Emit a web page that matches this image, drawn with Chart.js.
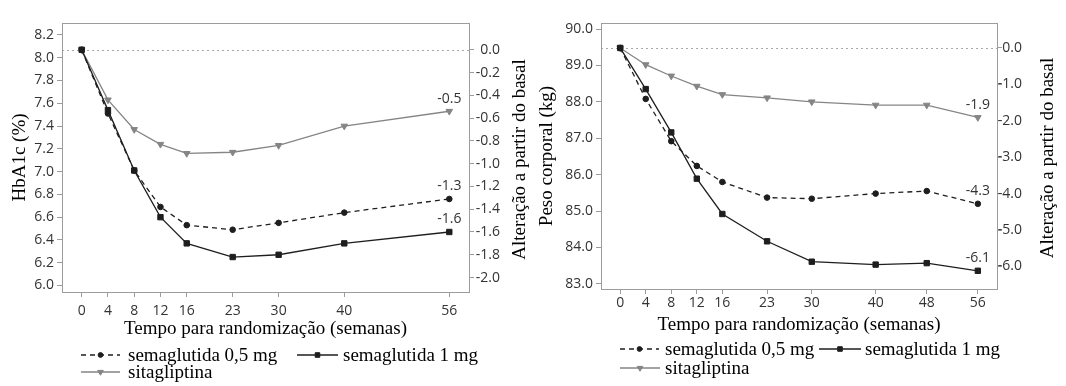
<!DOCTYPE html>
<html>
<head>
<meta charset="utf-8">
<script src="https://cdn.jsdelivr.net/npm/chart.js@4.4.1/dist/chart.umd.min.js"></script>
<style>
  html, body { margin: 0; padding: 0; background: #fff; }
  #wrap { position: relative; width: 1066px; height: 386px; overflow: hidden; }
  #hb { position: absolute; left: 0; top: 0; }
  #wt { position: absolute; left: 530px; top: 0; }
</style>
</head>
<body>
<div id="wrap">
  <canvas id="hb" width="530" height="386"></canvas>
  <canvas id="wt" width="536" height="386"></canvas>
</div>
<script>
// séries (mesma ordem nos dois painéis)
const seriesNames = ["semaglutida 0,5 mg", "semaglutida 1 mg", "sitagliptina"];

// painel esquerdo: HbA1c (%)
const hbWeeks = [0, 4, 8, 12, 16, 23, 30, 40, 56];
const hbSema05 = [8.07, 7.51, 7.01, 6.69, 6.53, 6.49, 6.55, 6.64, 6.76];
const hbSema1 = [8.07, 7.54, 7.01, 6.60, 6.37, 6.25, 6.27, 6.37, 6.47];
const hbSita = [8.07, 7.63, 7.37, 7.24, 7.16, 7.17, 7.23, 7.40, 7.53];
const hbTicks = [6.0, 6.2, 6.4, 6.6, 6.8, 7.0, 7.2, 7.4, 7.6, 7.8, 8.0, 8.2];
const hbChangeTicks = [0, -0.2, -0.4, -0.6, -0.8, -1.0, -1.2, -1.4, -1.6, -1.8, -2.0];
const hbEndLabels = ["-1.3", "-1.6", "-0.5"];

// painel direito: peso corporal (kg)
const wtWeeks = [0, 4, 8, 12, 16, 23, 30, 40, 48, 56];
const wtSema05 = [89.48, 88.08, 86.92, 86.24, 85.80, 85.37, 85.34, 85.48, 85.55, 85.20];
const wtSema1 = [89.48, 88.35, 87.16, 85.89, 84.92, 84.17, 83.61, 83.53, 83.57, 83.36];
const wtSita = [89.48, 89.02, 88.71, 88.43, 88.20, 88.11, 88.00, 87.91, 87.91, 87.57];
const wtTicks = [83, 84, 85, 86, 87, 88, 89, 90];
const wtChangeTicks = [0, -1, -2, -3, -4, -5, -6];
const wtEndLabels = ["-4.3", "-6.1", "-1.9"];

const xTitle = "Tempo para randomização (semanas)";
const changeTitle = "Alteração a partir do basal";

const SERIF = "'Liberation Serif', 'Times New Roman', serif";
const SANS = "'Open Sans', sans-serif";
const DARK = "#1e1e1e";
const GREY = "#858585";
const FRAME = "#9c9c9c";

Chart.defaults.font.family = SANS;
Chart.defaults.color = "#333";

// moldura, linha basal pontilhada, rótulos finais, título direito e legenda
const extras = {
  id: "extras",
  beforeDatasetsDraw(chart) {
    const { ctx, chartArea: a } = chart;
    const y0 = Math.round(chart.scales.y2.getPixelForValue(0)) + 0.5;
    ctx.save();
    ctx.lineWidth = 1;
    ctx.strokeStyle = "#a8a8a8";
    ctx.setLineDash([2, 3]);
    ctx.beginPath();
    ctx.moveTo(a.left, y0);
    ctx.lineTo(a.right, y0);
    ctx.stroke();
    ctx.setLineDash([]);
    ctx.strokeStyle = FRAME;
    ctx.strokeRect(Math.round(a.left) + 0.5, Math.round(a.top) + 0.5,
      Math.round(a.right - a.left), Math.round(a.bottom - a.top));
    ctx.restore();
  },
  afterDatasetsDraw(chart, args, opts) {
    const { ctx } = chart;
    ctx.save();
    ctx.font = "14px " + SANS;
    ctx.fillStyle = "#333";
    ctx.textAlign = "center";
    ctx.textBaseline = "middle";
    opts.endLabels.forEach((txt, i) => {
      const pts = chart.getDatasetMeta(i).data;
      const p = pts[pts.length - 1];
      ctx.fillText(txt, p.x, p.y - 12.5);
    });
    ctx.restore();
  },
  afterDraw(chart, args, opts) {
    const { ctx, chartArea: a } = chart;
    ctx.save();
    // título do eixo direito, lido de baixo para cima
    ctx.font = "19px " + SERIF;
    ctx.fillStyle = "#000";
    ctx.textAlign = "center";
    ctx.textBaseline = "middle";
    ctx.translate(opts.rightTitleX, (a.top + a.bottom) / 2 + 2);
    ctx.rotate(-Math.PI / 2);
    ctx.fillText(changeTitle, 0, 0);
    ctx.restore();

    // legenda
    ctx.save();
    opts.legend.forEach((it) => {
      const ds = chart.data.datasets[it.ds];
      ctx.strokeStyle = ds.borderColor;
      ctx.fillStyle = ds.borderColor;
      ctx.lineWidth = 1.3;
      ctx.setLineDash(ds.borderDash || []);
      ctx.beginPath();
      ctx.moveTo(it.x0, it.y);
      ctx.lineTo(it.x1, it.y);
      ctx.stroke();
      ctx.setLineDash([]);
      ctx.lineWidth = 1;
      Chart.helpers.drawPoint(ctx, {
        pointStyle: ds.pointStyle,
        radius: ds.pointRadius * 0.85,
        rotation: ds.pointRotation || 0,
        borderWidth: 0.5
      }, (it.x0 + it.x1) / 2, it.y);
      ctx.font = "19px " + SERIF;
      ctx.fillStyle = "#000";
      ctx.textAlign = "left";
      ctx.textBaseline = "middle";
      ctx.fillText(ds.label, it.tx, it.y + 1);
    });
    ctx.restore();
  }
};

function makeChart(canvas, o) {
  const base = o.sets[0][0];
  const styles = [
    { color: DARK, dash: [5, 4], style: "circle", r: 2.8, rot: 0 },
    { color: DARK, dash: [], style: "rect", r: 3.8, rot: 0 },
    { color: GREY, dash: [], style: "triangle", r: 3.8, rot: 180 }
  ];
  const datasets = o.sets.map((vals, k) => ({
    label: seriesNames[k],
    data: o.weeks.map((w, i) => ({ x: w, y: vals[i] })),
    borderColor: styles[k].color,
    backgroundColor: styles[k].color,
    borderWidth: 1.3,
    borderDash: styles[k].dash,
    pointStyle: styles[k].style,
    pointRadius: styles[k].r,
    pointRotation: styles[k].rot,
    pointBorderWidth: 1,
    tension: 0,
    yAxisID: "y"
  }));

  const tickGrid = { drawOnChartArea: false, drawTicks: true, tickLength: 5, color: FRAME };

  return new Chart(canvas.getContext("2d"), {
    type: "line",
    data: { datasets },
    options: {
      responsive: false,
      animation: false,
      events: [],
      layout: { padding: { top: o.top, left: 0, right: o.padRight, bottom: 0 } },
      plugins: {
        legend: { display: false },
        tooltip: { enabled: false },
        extras: { endLabels: o.endLabels, rightTitleX: o.rightTitleX, legend: o.legend }
      },
      scales: {
        x: {
          type: "linear",
          min: -3,
          max: 59,
          afterBuildTicks: (s) => { s.ticks = o.weeks.map((v) => ({ value: v })); },
          afterFit: (s) => { s.height = o.xHeight; },
          ticks: { autoSkip: false, maxRotation: 0, padding: o.xPad, font: { size: 14 }, color: "#333" },
          grid: tickGrid,
          border: { display: false },
          title: {
            display: true, text: xTitle, color: "#000",
            font: { family: SERIF, size: 19 }, padding: { top: 0, bottom: o.xTitlePad }
          }
        },
        y: {
          position: "left",
          min: o.yMin,
          max: o.yMax,
          afterBuildTicks: (s) => { s.ticks = o.yTicks.map((v) => ({ value: v })); },
          afterFit: (s) => { s.width = o.yWidth; },
          ticks: { padding: 3, font: { size: 14 }, color: "#333", callback: (v) => v.toFixed(1) },
          grid: tickGrid,
          border: { display: false },
          title: {
            display: true, text: o.yTitle, color: "#000",
            font: { family: SERIF, size: 19 }, padding: { top: o.yTitlePad, bottom: 0 }
          }
        },
        y2: {
          position: "right",
          min: o.yMin - base,
          max: o.yMax - base,
          afterBuildTicks: (s) => { s.ticks = o.changeTicks.map((v) => ({ value: v })); },
          afterFit: (s) => { s.width = o.y2Width; },
          ticks: { padding: 2, crossAlign: "far", font: { size: 14 }, color: "#333", callback: (v) => v.toFixed(1) },
          grid: tickGrid,
          border: { display: false }
        }
      }
    },
    plugins: [extras]
  });
}

makeChart(document.getElementById("hb"), {
  weeks: hbWeeks,
  sets: [hbSema05, hbSema1, hbSita],
  yMin: 5.943, yMax: 8.305,
  yTicks: hbTicks, changeTicks: hbChangeTicks, endLabels: hbEndLabels,
  yTitle: "HbA1c (%)",
  top: 23, padRight: 30, yWidth: 62, y2Width: 31, xHeight: 94,
  xPad: 6, xTitlePad: 46, yTitlePad: 9, rightTitleX: 520,
  legend: [
    { ds: 0, x0: 81, x1: 120, tx: 128, y: 355 },
    { ds: 1, x0: 297, x1: 338, tx: 343, y: 355 },
    { ds: 2, x0: 81, x1: 120, tx: 128, y: 372 }
  ]
});

makeChart(document.getElementById("wt"), {
  weeks: wtWeeks,
  sets: [wtSema05, wtSema1, wtSita],
  yMin: 82.86, yMax: 90.165,
  yTicks: wtTicks, changeTicks: wtChangeTicks, endLabels: wtEndLabels,
  yTitle: "Peso corporal (kg)",
  top: 23, padRight: 44, yWidth: 71, y2Width: 25, xHeight: 97,
  xPad: 1, xTitlePad: 50, yTitlePad: 6, rightTitleX: 518,
  legend: [
    { ds: 0, x0: 90, x1: 129, tx: 135, y: 349 },
    { ds: 1, x0: 289, x1: 331, tx: 335, y: 349 },
    { ds: 2, x0: 90, x1: 130, tx: 135, y: 368 }
  ]
});
</script>
</body>
</html>
